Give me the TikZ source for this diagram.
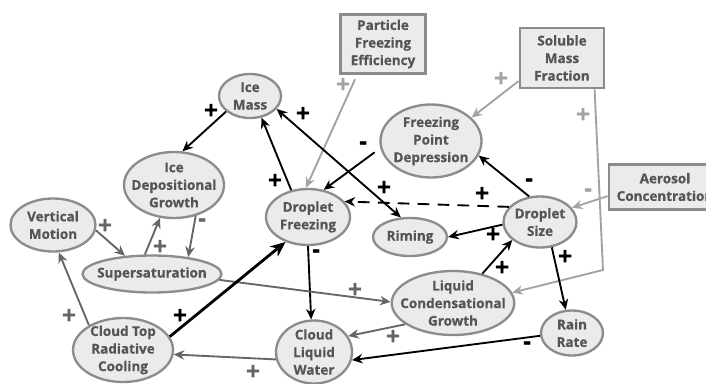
\documentclass[tikz,border=0pt]{standalone}
\usepackage{fontspec}
\setmainfont{Open Sans}[BoldFeatures={FakeBold=0.6}]
\newfontfamily\signfont[FakeBold=4]{DejaVu Sans Bold}
\usetikzlibrary{shapes.geometric,arrows.meta}

\definecolor{boxfill}{HTML}{EBEBEB}
\definecolor{boxline}{HTML}{8C8C8C}
\definecolor{boxtext}{HTML}{555555}
\definecolor{darklink}{HTML}{666666}
\definecolor{lightlink}{HTML}{A3A3A3}

\begin{document}
\begin{tikzpicture}[x=0.03cm,y=-0.03cm,
    proc/.style={ellipse,draw=boxline,fill=boxfill,line width=2pt,text=boxtext,
        font=\bfseries\fontsize{11.5}{15}\selectfont,align=center,inner sep=-8pt},
    factor/.style={rectangle,draw=boxline,fill=boxfill,line width=2.5pt,text=boxtext,
        font=\bfseries\fontsize{11.5}{15}\selectfont,align=center,inner sep=0pt},
    cause/.style={black,line width=1.6pt,-{Stealth[length=9pt,width=8pt]}},
    weakcause/.style={darklink,line width=1.6pt,-{Stealth[length=9pt,width=8pt]}},
    extcause/.style={lightlink,line width=1.6pt,-{Stealth[length=9pt,width=8pt]}},
    sign/.style={font=\signfont\fontsize{16}{16}\selectfont,inner sep=0pt}]

    \useasboundingbox (0,0) rectangle (706,383);

    % Outside factors
    \node[factor,minimum width=2.55cm,minimum height=1.77cm] (pfe) at (383,44) {Particle\\Freezing\\Efficiency};
    \node[factor,minimum width=2.52cm,minimum height=1.8cm] (smf) at (562,58) {Soluble\\Mass\\Fraction};
    \node[factor,minimum width=3.36cm,minimum height=1.35cm] (aero) at (665,187) {Aerosol\\Concentration};

    % Processes
    \node[proc,minimum width=1.86cm,minimum height=1.32cm] (ice) at (250,96) {Ice\\Mass};
    \node[proc,minimum width=3.03cm,minimum height=2.19cm] (fpd) at (431,141) {Freezing\\Point\\Depression};
    \node[proc,minimum width=3.0cm,minimum height=1.98cm] (idg) at (174,185) {Ice\\Depositional\\Growth};
    \node[proc,minimum width=2.55cm,minimum height=1.59cm] (vert) at (53,225) {Vertical\\Motion};
    \node[proc,minimum width=4.17cm,minimum height=1.11cm] (super) at (152,274) {Supersaturation};
    \node[proc,minimum width=2.52cm,minimum height=1.68cm] (frz) at (308,217) {Droplet\\Freezing};
    \node[proc,minimum width=2.22cm,minimum height=1.14cm] (rime) at (410,237) {Riming};
    \node[proc,minimum width=2.19cm,minimum height=1.53cm] (dsize) at (540,222) {Droplet\\Size};
    \node[proc,minimum width=3.66cm,minimum height=1.92cm] (lcg) at (453,303) {Liquid\\Condensational\\Growth};
    \node[proc,minimum width=1.86cm,minimum height=1.35cm] (rain) at (572,333) {Rain\\Rate};
    \node[proc,minimum width=2.28cm,minimum height=1.89cm] (clw) at (314,352) {Cloud\\Liquid\\Water};
    \node[proc,minimum width=3.0cm,minimum height=1.92cm] (ctrc) at (123,350) {Cloud Top\\Radiative\\Cooling};

    % Links from the outside factors
    \coordinate (bend) at (603,270);
    \draw[extcause,shorten <=4pt] (pfe.230) -- (frz.94);
    \draw[extcause] (smf.208) -- (fpd.30);
    \draw[extcause] (smf.316) -- (bend) -- (lcg.10);
    \draw[extcause] (aero.189) -- (dsize.24);

    % Ice links
    \draw[cause] (ice.213) -- (idg.76);
    \draw[cause] (frz.122) -- (ice.298);
    \draw[cause,{Stealth[length=9pt,width=8pt]}-{Stealth[length=9pt,width=8pt]}] (ice.334) -- (rime.115);
    \draw[cause,shorten <=6pt] (fpd.188) -- (frz.60);

    % Droplet links
    \draw[cause] (dsize.113) -- (fpd.343);
    \draw[cause,dash pattern=on 10pt off 7pt] (dsize.154) -- (frz.23);
    \draw[cause] (dsize.184) -- (rime.0);
    \draw[cause] (lcg.45) -- (dsize.213);
    \draw[cause] (dsize.295) -- (rain.105);
    \draw[cause] (rain.185) -- (clw.348);
    \draw[cause] (frz.270) -- (clw.95);
    \draw[weakcause] (lcg.204) -- (clw.25);
    \draw[weakcause] (super.355) -- (lcg.179);

    % Cloud top and vapour links
    \draw[weakcause] (clw.191) -- (ctrc.355);
    \draw[cause,line width=2.4pt,-{Stealth[length=13pt,width=11pt]}] (ctrc.16) -- (frz.228);
    \draw[weakcause] (ctrc.144) -- (vert.282);
    \draw[weakcause] (vert.353) -- (super.146);
    \draw[weakcause] (super.110) -- (idg.247);
    \draw[weakcause] (idg.305) -- (super.25);

    % Signs
    \node[sign] (s1) at (211,110) {+};
    \node[sign] (s2) at (275,180) {+};
    \node[sign] (s3) at (303,113) {+};
    \node[sign] (s4) at (384,187) {+};
    \node[sign,lightlink] (s5) at (343,84) {+};
    \node[sign] (s6) at (363,145) {-};
    \node[sign,lightlink] (s7) at (501,78) {+};
    \node[sign,lightlink] (s8) at (583,114) {+};
    \node[sign,lightlink] (s9) at (588,192) {-};
    \node[sign] (s10) at (529,182) {-};
    \node[sign] (s11) at (482,193) {+};
    \node[sign] (s12) at (493,234) {+};
    \node[sign] (s13) at (502,267) {+};
    \node[sign] (s14) at (565,256) {+};
    \node[sign] (s15) at (527,345) {-};
    \node[sign,darklink] (s16) at (393,336) {+};
    \node[sign,darklink] (s17) at (355,289) {+};
    \node[sign] (s18) at (316,253) {-};
    \node[sign,darklink] (s19) at (253,371) {+};
    \node[sign] (s20) at (180,315) {+};
    \node[sign,darklink] (s21) at (69,315) {+};
    \node[sign,darklink] (s22) at (105,225) {+};
    \node[sign,darklink] (s23) at (160,246) {+};
    \node[sign,darklink] (s24) at (202,222) {-};
\end{tikzpicture}
\end{document}
